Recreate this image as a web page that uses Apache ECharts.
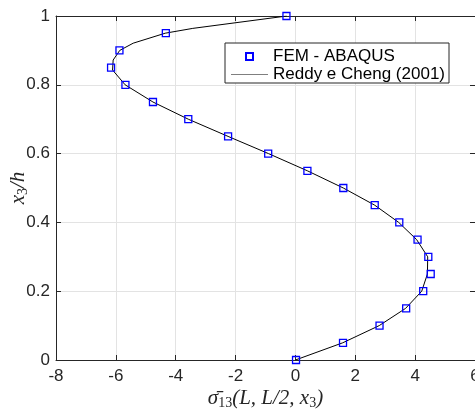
<!DOCTYPE html>
<html>
<head>
<meta charset="utf-8">
<script src="https://cdn.jsdelivr.net/npm/echarts@6/dist/echarts.min.js"></script>
<style>html,body{margin:0;padding:0;background:#fff}#c{width:475px;height:409px}</style>
</head>
<body>
<div id="c"></div>
<script>
// FEM - ABAQUS points: [sigma13, x3/h]
const femX = [0.02, 1.59, 2.81, 3.70, 4.27, 4.52, 4.44, 4.08, 3.47, 2.65, 1.60, 0.40, -0.91, -2.25, -3.58, -4.76, -5.68, -6.16, -5.88, -4.33, -0.30];
const femY = [0, 0.05, 0.1, 0.15, 0.2, 0.25, 0.3, 0.35, 0.4, 0.45, 0.5, 0.55, 0.6, 0.65, 0.7, 0.75, 0.8, 0.85, 0.9, 0.95, 1.0];
// Reddy e Cheng (2001) curve
const refX = [0.0, 1.58, 2.80, 3.68, 4.22, 4.41, 4.42, 4.05, 3.45, 2.65, 1.60, 0.40, -0.90, -2.25, -3.58, -4.76, -5.69, -6.11, -6.09, -5.87, -5.42, -4.35, -3.43, -0.29];
const refY = [0, 0.05, 0.1, 0.15, 0.2, 0.25, 0.3, 0.35, 0.4, 0.45, 0.5, 0.55, 0.6, 0.65, 0.7, 0.75, 0.8, 0.843, 0.872, 0.9, 0.921, 0.95, 0.964, 1.0];
const xTicks = {min: -8, max: 6, interval: 2};
const yTicks = {min: 0, max: 1, interval: 0.2};

const femData = femX.map((x, i) => [x, femY[i]]);
const refData = refX.map((x, i) => [x, refY[i]]);

const axCol = '#262626';
const gridCol = '#e3e3e3';
const font = 'Liberation Sans, Arial, sans-serif';
const serif = 'Liberation Serif, DejaVu Serif, serif';

const chart = echarts.init(document.getElementById('c'), null, {renderer: 'canvas'});
chart.setOption({
  animation: false,
  backgroundColor: '#fff',
  grid: {left: 56, right: 0, top: 16, bottom: 49, containLabel: false, outerBoundsMode: 'none'},
  legend: {
    orient: 'vertical',
    left: 225, top: 43,
    padding: [5, 4, 0, 6],
    itemGap: 1,
    itemWidth: 37, itemHeight: 7,
    borderColor: axCol, borderWidth: 1,
    backgroundColor: '#fff',
    textStyle: {fontFamily: font, fontSize: 17, color: '#000', lineHeight: 16},
    data: [
      {name: 'FEM - ABAQUS', icon: 'path://M0 0H10V10H0Z'},
      {name: 'Reddy e Cheng (2001)', icon: 'path://M0 0H100V1H0Z', lineStyle: {width: 1.2, color: '#000'}}
    ]
  },
  xAxis: [{
    type: 'value', min: xTicks.min, max: xTicks.max, interval: xTicks.interval,
    name: '{a|σ̄}{s|13}{a|(L, L/2, x}{s|3}{a|)}',
    nameLocation: 'middle', nameGap: 22, nameMoveOverlap: false,
    nameTextStyle: {
      rich: {
        a: {fontFamily: serif, fontStyle: 'italic', fontSize: 21, color: axCol, height: 24},
        s: {fontFamily: serif, fontSize: 14, color: axCol, padding: [9, 0, 0, 0], height: 24}
      }
    },
    axisLine: {show: true, onZero: false, lineStyle: {color: axCol, width: 1}},
    axisTick: {show: true, inside: true, length: 5, lineStyle: {color: axCol}},
    axisLabel: {fontFamily: font, fontSize: 17, color: axCol, margin: 8},
    splitLine: {show: true, lineStyle: {color: gridCol, width: 1}}
  }, {
    type: 'value', position: 'top', min: xTicks.min, max: xTicks.max, interval: xTicks.interval,
    axisLine: {show: true, onZero: false, lineStyle: {color: axCol, width: 1}},
    axisTick: {show: true, inside: true, length: 5, lineStyle: {color: axCol}},
    axisLabel: {show: false}, splitLine: {show: false}
  }],
  yAxis: [{
    type: 'value', min: yTicks.min, max: yTicks.max, interval: yTicks.interval,
    name: '{a|x}{s|3}{a|/h}',
    nameLocation: 'middle', nameGap: 21, nameRotate: 90, nameMoveOverlap: false,
    nameTextStyle: {
      rich: {
        a: {fontFamily: serif, fontStyle: 'italic', fontSize: 21, color: axCol, height: 24},
        s: {fontFamily: serif, fontSize: 14, color: axCol, padding: [9, 0, 0, 0], height: 24}
      }
    },
    axisLine: {show: true, onZero: false, lineStyle: {color: axCol, width: 1}},
    axisTick: {show: true, inside: true, length: 5, lineStyle: {color: axCol}},
    axisLabel: {fontFamily: font, fontSize: 17, color: axCol, margin: 6},
    splitLine: {show: true, lineStyle: {color: gridCol, width: 1}}
  }, {
    type: 'value', position: 'right', min: yTicks.min, max: yTicks.max, interval: yTicks.interval,
    axisLine: {show: true, onZero: false, lineStyle: {color: axCol, width: 1}},
    axisTick: {show: true, inside: true, length: 5, lineStyle: {color: axCol}},
    axisLabel: {show: false}, splitLine: {show: false}
  }],
  series: [{
    name: 'Reddy e Cheng (2001)',
    type: 'line',
    data: refData,
    symbol: 'none',
    smooth: false,
    lineStyle: {color: '#000', width: 1},
    itemStyle: {color: '#000'},
    z: 2
  }, {
    name: 'FEM - ABAQUS',
    type: 'scatter',
    data: femData,
    symbol: 'rect',
    symbolSize: 7,
    itemStyle: {color: 'rgba(0,0,0,0)', borderColor: '#0000ff', borderWidth: 1.3, opacity: 1},
    z: 3
  }]
});
</script>
</body>
</html>
